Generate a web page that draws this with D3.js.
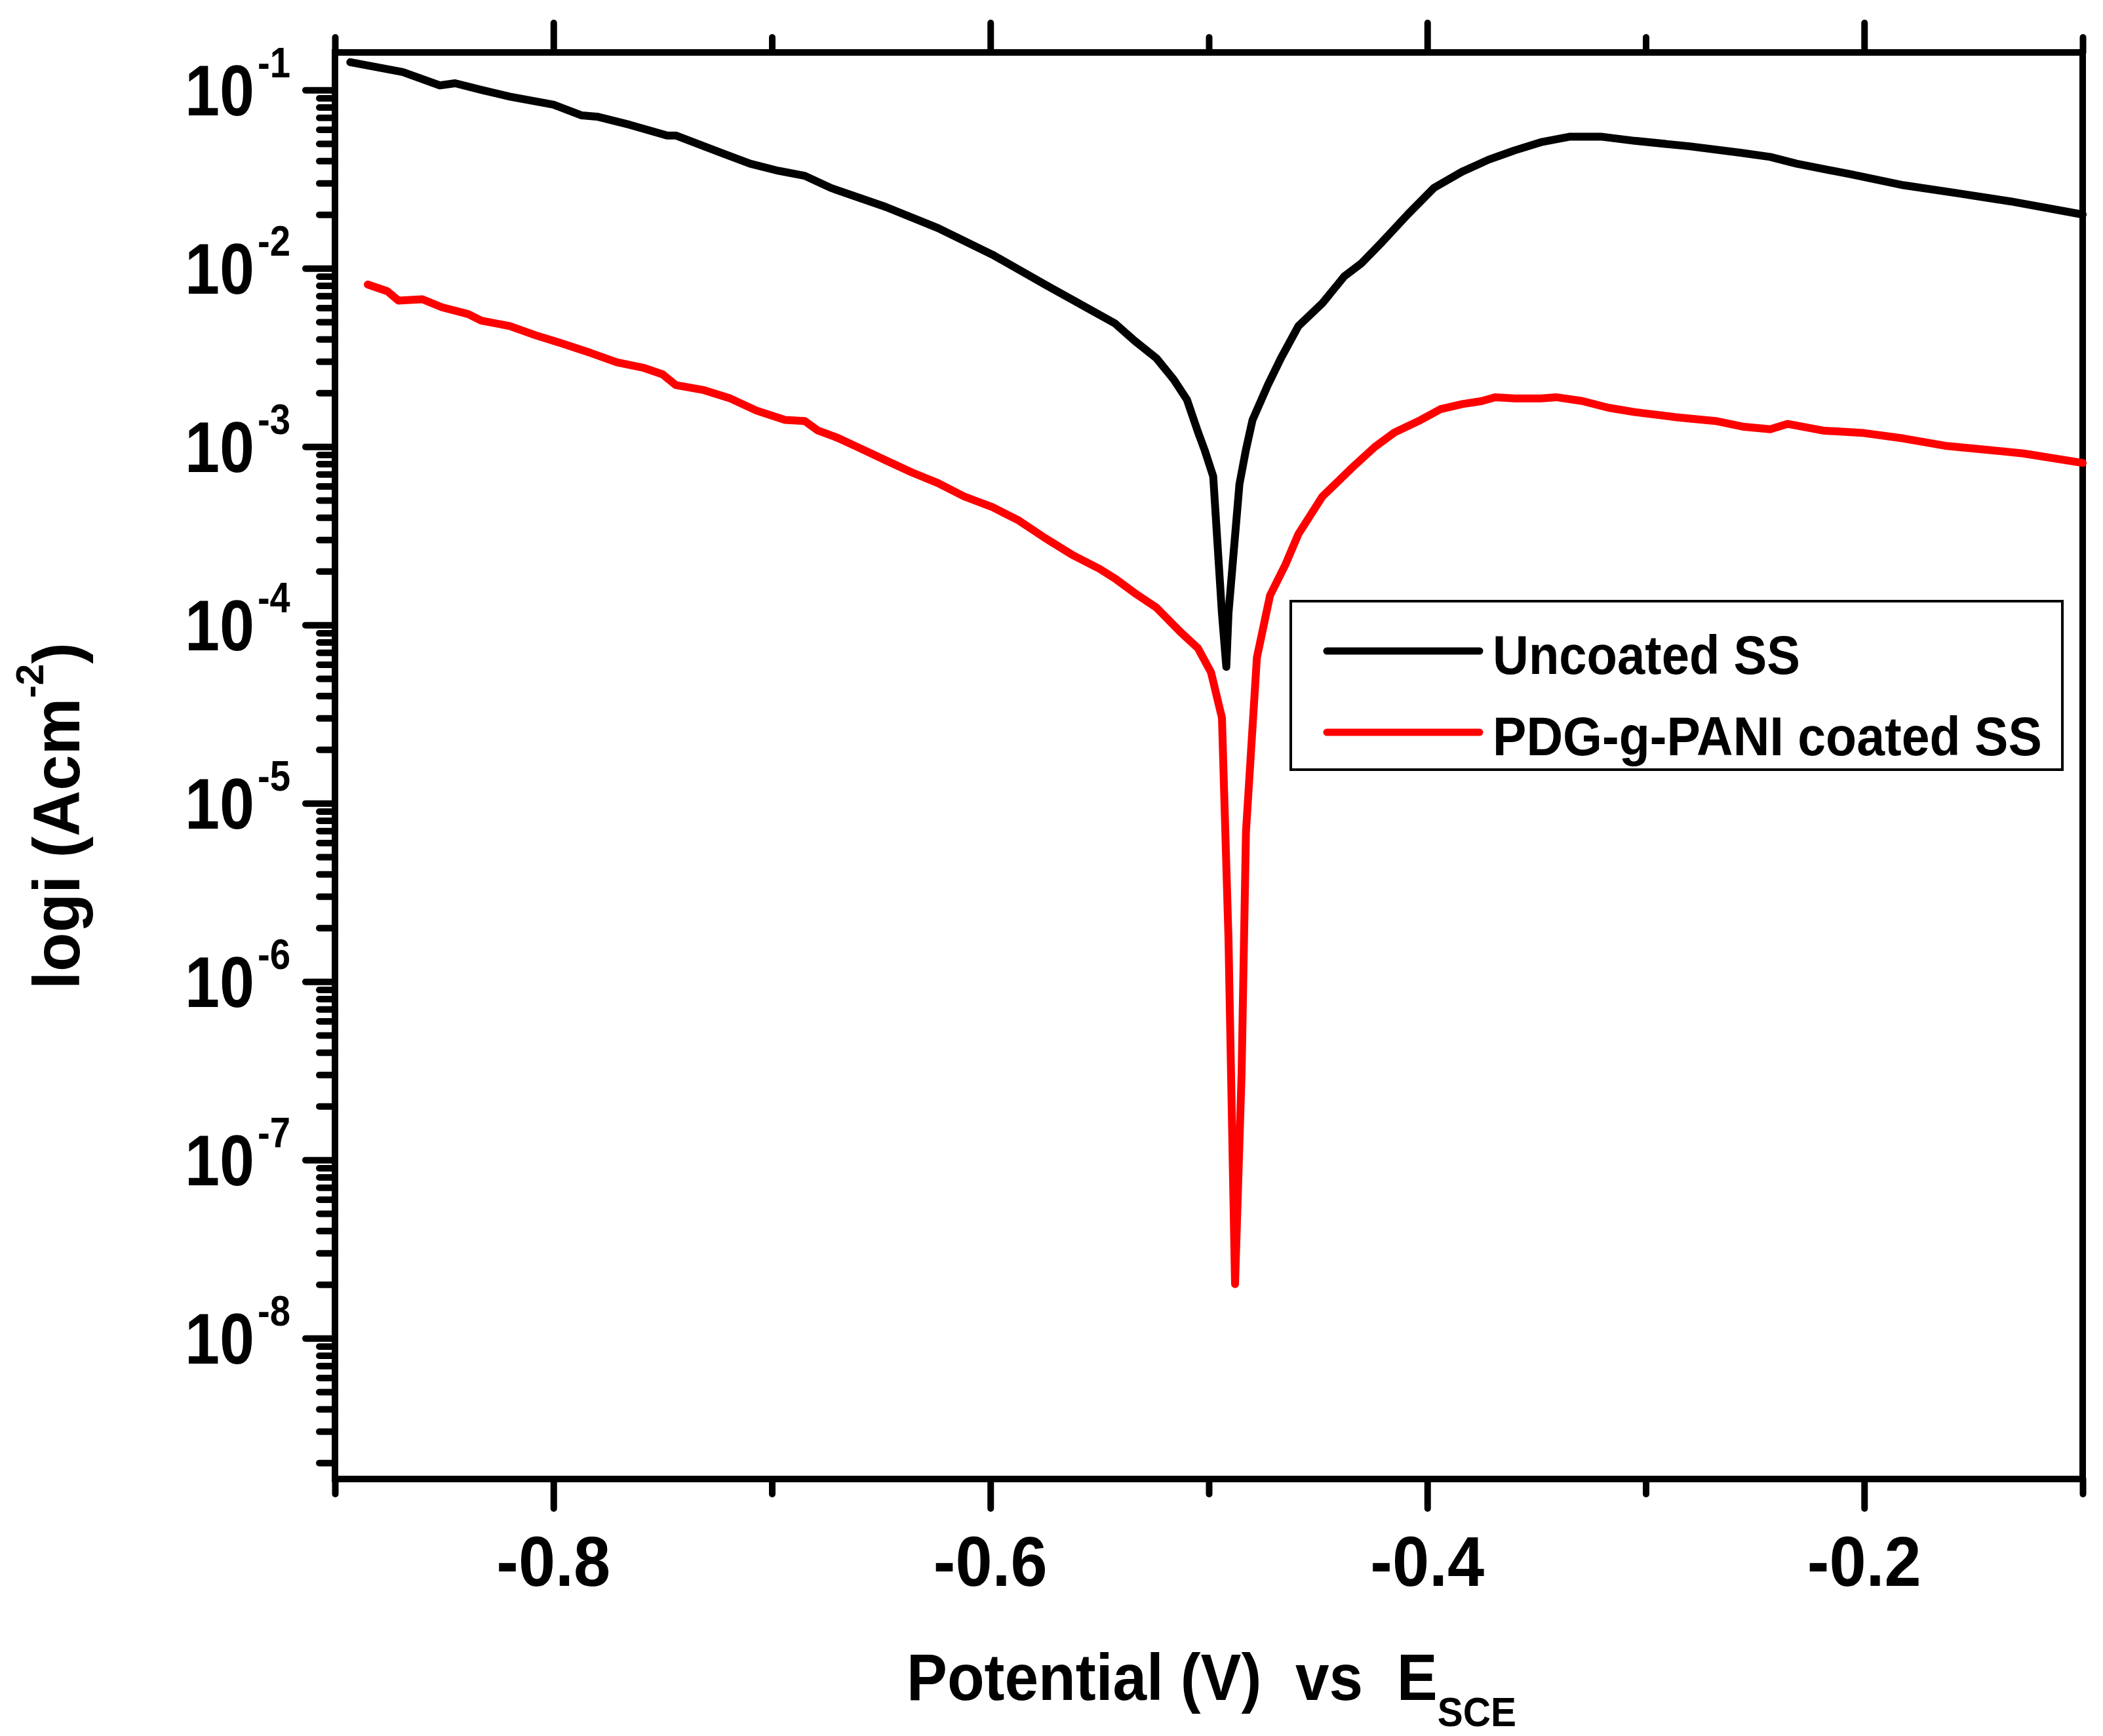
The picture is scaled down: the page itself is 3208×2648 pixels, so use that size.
<!DOCTYPE html>
<html>
<head>
<meta charset="utf-8">
<script src="https://cdn.jsdelivr.net/npm/d3@7"></script>
<style>
  body { margin: 0; background: #fff; }
  svg text { font-family: "Liberation Sans", Arial, sans-serif; font-weight: bold; fill: #000; }
</style>
</head>
<body>
<div id="chart"></div>
<script>
// potential (V vs SCE) and current density (A/cm2)
const potentialUncoated = [-0.893, -0.869, -0.852, -0.845, -0.833, -0.820, -0.800, -0.787, -0.780, -0.765,
  -0.748, -0.744, -0.723, -0.710, -0.698, -0.685, -0.673, -0.648, -0.624, -0.599,
  -0.575, -0.543, -0.534, -0.524, -0.516, -0.510, -0.505, -0.502, -0.498, -0.494,
  -0.492, -0.491, -0.486, -0.483, -0.480, -0.473, -0.467, -0.459, -0.448, -0.438,
  -0.430, -0.421, -0.409, -0.397, -0.384, -0.372, -0.360, -0.348, -0.335, -0.320,
  -0.305, -0.280, -0.256, -0.243, -0.231, -0.206, -0.182, -0.157, -0.133, -0.100];
const currentUncoated = [0.143, 0.126, 0.106, 0.109, 0.100, 0.0917, 0.0826, 0.0719, 0.0708, 0.0637,
  0.0555, 0.0555, 0.0443, 0.0386, 0.0354, 0.033, 0.0282, 0.0221, 0.0168, 0.0119,
  0.0081, 0.00491, 0.00392, 0.00313, 0.00237, 0.00183, 0.00121, 0.000962, 0.000681, 0.000116,
  0.0000581, 0.000116, 0.000614, 0.000962, 0.00141, 0.00221, 0.00313, 0.00474, 0.00637, 0.009,
  0.0107, 0.0139, 0.02, 0.0282, 0.0348, 0.0406, 0.0458, 0.0509, 0.0546, 0.0546,
  0.0518, 0.0483, 0.0443, 0.0421, 0.0386, 0.0336, 0.0292, 0.0263, 0.0237, 0.02];

const potentialCoated = [-0.885, -0.876, -0.871, -0.860, -0.851, -0.839, -0.833, -0.820, -0.808, -0.796,
  -0.783, -0.771, -0.759, -0.750, -0.744, -0.731, -0.719, -0.707, -0.694, -0.685,
  -0.679, -0.670, -0.661, -0.648, -0.636, -0.624, -0.612, -0.599, -0.587, -0.575,
  -0.562, -0.550, -0.543, -0.534, -0.524, -0.513, -0.505, -0.499, -0.494, -0.491,
  -0.488, -0.485, -0.483, -0.478, -0.472, -0.465, -0.459, -0.448, -0.434, -0.424,
  -0.415, -0.403, -0.394, -0.384, -0.375, -0.369, -0.360, -0.348, -0.341, -0.329,
  -0.317, -0.305, -0.286, -0.268, -0.255, -0.243, -0.235, -0.219, -0.200, -0.182,
  -0.163, -0.145, -0.127, -0.100];
const currentCoated = [0.0081, 0.00743, 0.00659, 0.0067, 0.00604, 0.00553, 0.00508, 0.00474, 0.0042, 0.00378,
  0.00335, 0.00297, 0.00277, 0.00254, 0.00221, 0.00207, 0.00186, 0.00159, 0.00141, 0.00139,
  0.00123, 0.00112, 0.000996, 0.000838, 0.000717, 0.000624, 0.000525, 0.000457, 0.000385, 0.000307,
  0.000245, 0.000206, 0.000182, 0.000151, 0.000125, 9.12e-5, 7.41e-5, 5.42e-5, 3.01e-5, 1.73e-6,
  2.01e-8, 3.06e-7, 6.9e-6, 6.56e-5, 0.000146, 0.000217, 0.000323, 0.000525, 0.000769, 0.000996,
  0.0012, 0.00141, 0.00162, 0.00173, 0.0018, 0.00189, 0.00186, 0.00186, 0.00189, 0.0018,
  0.00165, 0.00156, 0.00146, 0.00139, 0.00129, 0.00125, 0.00134, 0.00123, 0.00119, 0.00111,
  0.00101, 0.000962, 0.000914, 0.000809];

const seriesNames = ["Uncoated SS", "PDG-g-PANI coated SS"];
const xTickValues = [-0.9, -0.8, -0.7, -0.6, -0.5, -0.4, -0.3, -0.2, -0.1];
const xTickLabels = ["-0.8", "-0.6", "-0.4", "-0.2"];
const yExponents = [-1, -2, -3, -4, -5, -6, -7, -8];

const W = 3208, H = 2648;
const margin = { top: 80, right: 31, bottom: 392, left: 511 };
const innerW = W - margin.left - margin.right;
const innerH = H - margin.top - margin.bottom;

const svg = d3.select("#chart").append("svg")
  .attr("width", W)
  .attr("height", H);

const g = svg.append("g").attr("transform", `translate(${margin.left},${margin.top})`);

const x = d3.scaleLinear().domain([-0.9, -0.1]).range([0, innerW]);
const y = d3.scaleLog().domain([1.622e-9, 0.1622]).range([innerH, 0]);

// squeeze a text node (drawn at its anchor) to a target width
function fitWidth(sel, target) {
  const w = sel.node().getBBox().width;
  sel.attr("transform", (sel.attr("transform") || "") + ` scale(${target / w},1)`);
}

const isMajorX = v => Math.abs(Math.round(v * 10)) % 2 === 0;

// y ticks: 1..9 x 10^k inside the domain
const yTickValues = [];
for (let e = -9; e <= -1; e++) {
  for (let m = 1; m <= 9; m++) {
    const v = m * Math.pow(10, e);
    if (v >= y.domain()[0] && v <= y.domain()[1]) yTickValues.push(v);
  }
}
const isMajorY = v => Math.abs(Math.log10(v) - Math.round(Math.log10(v))) < 1e-9;

// bottom axis
const xAxisB = g.append("g").attr("transform", `translate(0,${innerH})`)
  .call(d3.axisBottom(x).tickValues(xTickValues).tickSize(45).tickSizeOuter(0).tickFormat(""));
// top axis
const xAxisT = g.append("g")
  .call(d3.axisTop(x).tickValues(xTickValues).tickSize(45).tickSizeOuter(0).tickFormat(""));
[xAxisB, xAxisT].forEach(ax => {
  ax.select(".domain").remove();
  ax.selectAll(".tick line")
    .attr("stroke", "#000").attr("stroke-width", 10).attr("stroke-linecap", "round")
    .each(function (d) {
      const l = d3.select(this);
      const dir = +l.attr("y2") > 0 ? 1 : -1;
      l.attr("y2", dir * (isMajorX(d) ? 45 : 23));
    });
});

// left axis
const yAxis = g.append("g")
  .call(d3.axisLeft(y).tickValues(yTickValues).tickSize(45).tickSizeOuter(0).tickFormat(""));
yAxis.select(".domain").remove();
yAxis.selectAll(".tick line")
  .attr("stroke", "#000").attr("stroke-width", 10).attr("stroke-linecap", "round")
  .attr("x2", d => isMajorY(d) ? -45 : -24);

// frame
g.append("rect")
  .attr("x", 0).attr("y", 0)
  .attr("width", innerW).attr("height", innerH)
  .attr("fill", "none").attr("stroke", "#000").attr("stroke-width", 10);

// x tick labels
xTickLabels.forEach(t => {
  const v = +t;
  const lab = g.append("text")
    .attr("transform", `translate(${x(v)},${innerH + 163})`)
    .attr("text-anchor", "middle")
    .attr("font-size", 108)
    .text(t);
  fitWidth(lab, 174);
});

// y tick labels 10^k
yExponents.forEach(e => {
  const yy = y(Math.pow(10, e));
  const base = g.append("text")
    .attr("transform", `translate(-123,${yy + 39})`)
    .attr("text-anchor", "end")
    .attr("font-size", 109)
    .text("10");
  fitWidth(base, 106);
  const sup = g.append("text")
    .attr("transform", `translate(-118,${yy - 19})`)
    .attr("font-size", 64)
    .text(String(e));
  fitWidth(sup, 50);
});

// curves
const line = d3.line()
  .x(d => x(d[0]))
  .y(d => y(d[1]));

const plot = g.append("g");
plot.append("path")
  .datum(d3.zip(potentialUncoated, currentUncoated))
  .attr("fill", "none").attr("stroke", "#000000")
  .attr("stroke-width", 12).attr("stroke-linejoin", "round").attr("stroke-linecap", "round")
  .attr("d", line);
plot.append("path")
  .datum(d3.zip(potentialCoated, currentCoated))
  .attr("fill", "none").attr("stroke", "#ff0000")
  .attr("stroke-width", 12).attr("stroke-linejoin", "round").attr("stroke-linecap", "round")
  .attr("d", line);

// legend
const legend = svg.append("g").attr("transform", "translate(1969,917)");
legend.append("rect")
  .attr("width", 1177).attr("height", 257)
  .attr("fill", "#fff").attr("stroke", "#000").attr("stroke-width", 4);
const legendColors = ["#000000", "#ff0000"];
const legendWidths = [469, 838];
seriesNames.forEach((name, i) => {
  const ly = 76 + i * 124;
  legend.append("line")
    .attr("x1", 55).attr("x2", 288)
    .attr("y1", ly).attr("y2", ly)
    .attr("stroke", legendColors[i]).attr("stroke-width", 11).attr("stroke-linecap", "round");
  const t = legend.append("text")
    .attr("transform", `translate(308,${ly + 35})`)
    .attr("font-size", 83)
    .text(name);
  fitWidth(t, legendWidths[i]);
});

// x axis title
const xTitle = svg.append("text")
  .attr("transform", "translate(1383,2593)")
  .attr("font-size", 100)
  .style("white-space", "pre");
xTitle.append("tspan").text("Potential (V)  vs  E");
xTitle.append("tspan").attr("font-size", 63).attr("dy", 40).text("SCE");
fitWidth(xTitle, 930);

// y axis title
const yTitle = svg.append("text")
  .attr("transform", "translate(121,1509) rotate(-90)")
  .attr("font-size", 100)
  .style("white-space", "pre");
yTitle.append("tspan").text("logi (Acm");
yTitle.append("tspan").attr("font-size", 60).attr("dy", -55).text("-2");
yTitle.append("tspan").attr("dy", 55).text(")");
fitWidth(yTitle, 529);
</script>
</body>
</html>
